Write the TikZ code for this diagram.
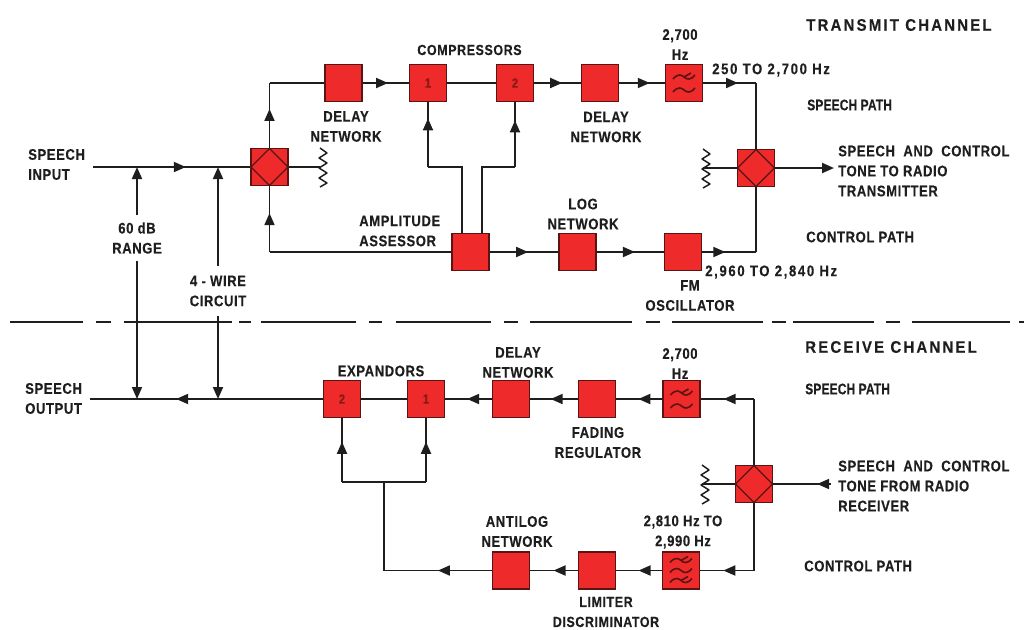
\documentclass[tikz,border=0pt]{standalone}
\usepackage{fontspec}
\setmainfont[BoldFont={Liberation Sans Bold},BoldFeatures={FakeBold=0.25},FakeStretch=0.85,LetterSpace=4]{Liberation Sans}
\newfontfamily\widefam[BoldFont={Liberation Sans Bold},BoldFeatures={FakeBold=0.25},FakeStretch=0.9,LetterSpace=13]{Liberation Sans}
\newfontfamily\midfam[BoldFont={Liberation Sans Bold},BoldFeatures={FakeBold=0.25},FakeStretch=0.85,LetterSpace=11]{Liberation Sans}
\newfontfamily\narrowfam[BoldFont={Liberation Sans Bold},BoldFeatures={FakeBold=0.25},FakeStretch=0.78,LetterSpace=1]{Liberation Sans}
\usetikzlibrary{arrows.meta,decorations.markings}
\definecolor{boxred}{HTML}{EE2A2A}
\definecolor{boxedge}{HTML}{5A1414}
\definecolor{numred}{HTML}{8A1A1A}
\definecolor{ink}{HTML}{1E1E1E}
\newcommand{\sqg}[1]{\draw[squig] (-11,#1+2) .. controls (-6,#1-4) and (-2,#1-2) .. (0,#1) .. controls (3,#1+3) and (7,#1+3) .. (11,#1-2);}
\newcommand{\stk}[1]{\draw[squig] (0,#1) -- (7,#1-4);}
\newcommand{\zig}[1]{\draw[wire,line width=1.1pt,line join=round] (#1) ++(0,-19) -- ++(7,5) -- ++(-8,5) -- ++(8,5) -- ++(-8,5) -- ++(8,5) -- ++(-8,5) -- ++(8,5) -- ++(-7,4);}
\tikzset{
  x=0.75pt,y=-0.75pt,
  wire/.style={draw=ink,line width=1.4pt,line join=miter},
  tipat/.style={postaction={decorate},decoration={markings,mark=at position #1 with {\arrow{Triangle[length=9pt,width=7.5pt]}}}},
  endtip/.style={-{Triangle[length=9pt,width=7.5pt]}},
  block/.style={draw=boxedge,line width=1pt,fill=boxred,minimum size=27.75pt,inner sep=0pt,text=numred,font=\bfseries\fontsize{10}{11}\selectfont},
  hybrid/.style={block,path picture={\draw[draw=boxedge,line width=1pt] (path picture bounding box.north)--(path picture bounding box.east)--(path picture bounding box.south)--(path picture bounding box.west)--cycle;}},
  squig/.style={draw=boxedge,line width=1.2pt},
  twofilter/.style={block,path picture={\begin{scope}[shift={(path picture bounding box.center)}]\sqg{-6}\stk{-6}\sqg{7}\end{scope}}},
  threefilter/.style={block,path picture={\begin{scope}[shift={(path picture bounding box.center)}]\sqg{-10}\stk{-10}\sqg{0}\sqg{10}\stk{10}\end{scope}}},
  lab/.style={inner sep=0pt,text=ink,font=\bfseries\fontsize{11.5}{15}\selectfont,align=center},
  labl/.style={lab,anchor=west,align=left},
  wlab/.style={labl,font=\widefam\bfseries\fontsize{12.5}{15}\selectfont},
  mlab/.style={labl,font=\midfam\bfseries\fontsize{11.5}{15}\selectfont},
  nlab/.style={labl,font=\narrowfam\bfseries\fontsize{11.5}{15}\selectfont},
  dline/.style={draw=ink,line width=1.8pt},
}
\begin{document}
\begin{tikzpicture}
\useasboundingbox (0,0) rectangle (1024,629);
% blocks, transmit
\node[hybrid] (h1) at (269.5,167) {};
\node[block] (d1) at (343.5,83) {};
\node[block] (c1) at (428,83) {1};
\node[block] (c2) at (515,83) {2};
\node[block] (d2) at (600,83) {};
\node[twofilter] (f1) at (684,83) {};
\node[hybrid] (h2) at (756,168) {};
\node[block] (aa) at (470.5,252) {};
\node[block] (lg) at (577.5,252) {};
\node[block] (fm) at (683,252) {};
% blocks, receive
\node[block] (e2) at (342,399) {2};
\node[block] (e1) at (426,399) {1};
\node[block] (d3) at (511,399) {};
\node[block] (fr) at (597,399) {};
\node[twofilter] (f2) at (681.5,399) {};
\node[hybrid] (h3) at (754,484) {};
\node[block] (al) at (511,570.5) {};
\node[block] (ld) at (597,570.5) {};
\node[threefilter] (f3) at (681,570.5) {};
% free ends and corners
\coordinate (inS) at (93,167);
\coordinate (j1) at (137,167);
\coordinate (j2) at (218,167);
\coordinate (outE) at (90,399);
\coordinate (j3) at (137,399);
\coordinate (j4) at (218,399);
\coordinate (r1) at (320,167);
\coordinate (r2) at (703,168);
\coordinate (r3) at (702,484);
\coordinate (outT) at (834,168);
\coordinate (inR) at (831,484);
\coordinate (k1) at (269.5,83);
\coordinate (k2) at (269.5,252);
\coordinate (k3) at (428,167);
\coordinate (k4) at (462,167);
\coordinate (k5) at (482,167);
\coordinate (k6) at (515,167);
\coordinate (k7) at (462,233);
\coordinate (k8) at (482,233);
\coordinate (k9) at (756,83);
\coordinate (k10) at (756,252);
\coordinate (m1) at (754,399);
\coordinate (m2) at (754,570.5);
\coordinate (m3) at (384,570.5);
\coordinate (m4) at (384,482);
\coordinate (m5) at (342,482);
\coordinate (m6) at (426,482);
% labels in the way of the range arrows
\node[lab,inner ysep=5pt] (rng) at (137,238) {60 dB\\RANGE};
\node[lab,inner ysep=7pt] (wir) at (218,291) {4 - WIRE\\CIRCUIT};
% connectors, transmit
\draw[wire,tipat=0.59] (inS) -- (h1.west);
\draw[wire,tipat=0.6] (h1.north) -- (k1);
\draw[wire] (k1) -- (d1.west);
\draw[wire,tipat=0.55] (d1.east) -- (c1.west);
\draw[wire] (c1.east) -- (c2.west);
\draw[wire,tipat=0.6] (c2.east) -- (d2.west);
\draw[wire,tipat=0.67] (d2.east) -- (f1.west);
\draw[wire,tipat=0.66] (f1.east) -- (k9);
\draw[wire] (k9) -- (h2.north);
\draw[wire] (h1.east) -- (r1);
\zig{r1}
\draw[wire] (h2.west) -- (r2);
\zig{r2}
\draw[wire,endtip] (h2.east) -- (outT);
\draw[wire] (aa.west) -- (k2);
\draw[wire,tipat=0.59] (k2) -- (h1.south);
\draw[wire] (k7) -- (k4) -- (k3);
\draw[wire] (k8) -- (k5) -- (k6);
\draw[wire,tipat=0.75] (k3) -- (c1.south);
\draw[wire,tipat=0.72] (k6) -- (c2.south);
\draw[wire,tipat=0.56] (aa.east) -- (lg.west);
\draw[wire,tipat=0.57] (lg.east) -- (fm.west);
\draw[wire,tipat=0.43] (fm.east) -- (k10);
\draw[wire] (k10) -- (h2.south);
% range arrows
\draw[wire,endtip] (rng.north) -- (j1);
\draw[wire,endtip] (rng.south) -- (j3);
\draw[wire,endtip] (wir.north) -- (j2);
\draw[wire,endtip] (wir.south) -- (j4);
% connectors, receive
\draw[wire] (e1.west) -- (e2.east);
\draw[wire,tipat=0.63] (e2.west) -- (outE);
\draw[wire,tipat=0.53] (d3.west) -- (e1.east);
\draw[wire,tipat=0.57] (fr.west) -- (d3.east);
\draw[wire,tipat=0.52] (f2.west) -- (fr.east);
\draw[wire] (h3.north) -- (m1);
\draw[wire,tipat=0.57] (m1) -- (f2.east);
\draw[wire] (h3.west) -- (r3);
\zig{r3}
\draw[wire,tipat=0.24] (inR) -- (h3.east);
\draw[wire] (h3.south) -- (m2);
\draw[wire,tipat=0.57] (m2) -- (f3.east);
\draw[wire,tipat=0.51] (f3.west) -- (ld.east);
\draw[wire,tipat=0.51] (ld.west) -- (al.east);
\draw[wire,tipat=0.5] (al.west) -- (m3);
\draw[wire] (m3) -- (m4);
\draw[wire] (m5) -- (m6);
\draw[wire,tipat=0.63] (m5) -- (e2.south);
\draw[wire,tipat=0.63] (m6) -- (e1.south);
% separating line
\foreach \a/\b in {10/83,96/111,124/232,239/251,261/356,369/382,396/491,504/518,530/632,646/660,672/763,772/786,793/874,886/900,912/1010,1019/1024}
  \draw[dline] (\a,322) -- (\b,322);
% labels, transmit
\node[wlab] (t1) at (806,25) {TRANSMIT CHANNEL};
\node[lab] (t2) at (680,44.5) {2,700\\Hz};
\node[mlab] (t3) at (712,70) {250 TO 2,700 Hz};
\node[nlab] (t4) at (807,105) {SPEECH PATH};
\node[labl] (t5) at (838,171) {SPEECH\ \ AND\ \ CONTROL\\TONE TO RADIO\\TRANSMITTER};
\node[labl] (t6) at (806,237) {CONTROL PATH};
\node[mlab] (t7) at (705,272) {2,960 TO 2,840 Hz};
\node[lab] (t8) at (690,295.5) {FM\\OSCILLATOR};
\node[lab,font=\bfseries\fontsize{11}{15}\selectfont] (t9) at (469.5,50) {COMPRESSORS};
\node[lab] (t10) at (346,126.5) {DELAY\\NETWORK};
\node[lab] (t11) at (606,127) {DELAY\\NETWORK};
\node[labl] (t12) at (359,231) {AMPLITUDE\\ASSESSOR};
\node[lab] (t13) at (583,214) {LOG\\NETWORK};
\node[labl] (t14) at (28,164.5) {SPEECH\\INPUT};
% labels, receive
\node[labl] (r14) at (25,398.5) {SPEECH\\OUTPUT};
\node[wlab] (t15) at (805,347) {RECEIVE CHANNEL};
\node[lab] (t16) at (381,371) {EXPANDORS};
\node[lab] (t17) at (518,362.5) {DELAY\\NETWORK};
\node[lab] (t18) at (680,363.5) {2,700\\Hz};
\node[nlab] (t19) at (805,389) {SPEECH PATH};
\node[lab] (t20) at (598,442.5) {FADING\\REGULATOR};
\node[labl] (t21) at (838,486) {SPEECH\ \ AND\ \ CONTROL\\TONE FROM RADIO\\RECEIVER};
\node[lab] (t22) at (683,532) {2,810 Hz TO\\2,990 Hz};
\node[lab] (t23) at (517,531.5) {ANTILOG\\NETWORK};
\node[labl] (t24) at (804,566) {CONTROL PATH};
\node[lab,font=\bfseries\fontsize{11}{15}\selectfont] (t25) at (606,612) {LIMITER\hspace{9pt}\\DISCRIMINATOR};
\end{tikzpicture}
\end{document}
